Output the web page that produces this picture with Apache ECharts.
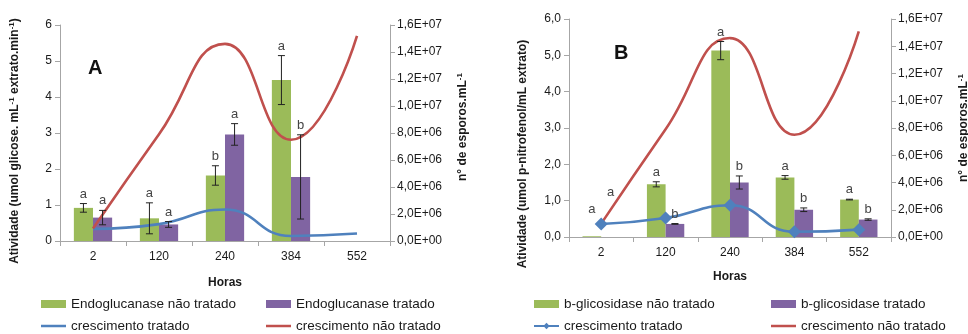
<!DOCTYPE html>
<html>
<head>
<meta charset="utf-8">
<script src="https://cdn.jsdelivr.net/npm/echarts@6/dist/echarts.min.js"></script>
<style>
  html, body { margin: 0; padding: 0; background: #fff; }
  #chart { width: 968px; height: 334px; }
</style>
</head>
<body>
<div id="chart"></div>
<script>
// categorias (horas)
let horas = ["2", "120", "240", "384", "552"];

// grafico A - endoglucanase
let endoNaoTratado = [0.92, 0.63, 1.82, 4.47, null];
let endoNaoTratadoErro = [0.12, 0.43, 0.27, 0.68, null];
let endoNaoTratadoLetra = ["a", "a", "b", "a", null];
let endoTratado = [0.65, 0.46, 2.96, 1.78, null];
let endoTratadoErro = [0.2, 0.08, 0.3, 1.17, null];
let endoTratadoLetra = ["a", "a", "a", "b", null];
let crescTratadoA = [0.9e6, 1.25e6, 2.33e6, 0.37e6, 0.55e6];
let crescNaoTratadoA = [0.92e6, 7.9e6, 14.6e6, 7.5e6, 15.2e6];

// grafico B - b-glicosidase
let bgliNaoTratado = [0.02, 1.45, 5.13, 1.64, 1.03];
let bgliNaoTratadoErro = [0, 0.07, 0.25, 0.05, 0.01];
let bgliNaoTratadoLetra = ["a", "a", "a", "a", "a"];
let bgliTratado = [0, 0.36, 1.5, 0.75, 0.48];
let bgliTratadoErro = [0, 0.01, 0.18, 0.05, 0.02];
let bgliTratadoLetra = ["a", "b", "b", "b", "b"];
// letras das 2 h ficam soltas no grafico B
let bgliNaoTratadoNivelLetra = [0.59, null, null, null, null];
let bgliTratadoNivelLetra = [1.05, null, null, null, null];
let crescTratadoB = [0.95e6, 1.39e6, 2.33e6, 0.38e6, 0.54e6];
let crescNaoTratadoB = [0.98e6, 7.9e6, 14.6e6, 7.5e6, 15.1e6];

let verde = "#9BBB59";
let roxo = "#8064A2";
let azul = "#4F81BD";
let vermelho = "#C0504D";
let fonte = "Liberation Sans, Arial, sans-serif";
let corTexto = "#1a1a1a";
let gapCategoria = 0.42;
// icone de linha fina para a legenda
let iconeLinha = "path://M0,0h50v5h-50z";

function formatoCientifico(v) {
    if (v === 0) return "0,0E+00";
    let e = Math.floor(Math.log10(v) + 1e-9);
    let m = v / Math.pow(10, e);
    return m.toFixed(1).replace(".", ",") + "E+" + (e < 10 ? "0" + e : e);
}

// monta dados das barras de erro: [indice, media, erro, letra, lado, nivelLetra]
function dadosErro(medias, erros, letras, lado, niveis) {
    let out = [];
    medias.forEach((m, i) => {
        if (m === null) return;
        out.push([i, m, erros[i], letras[i], lado, niveis ? niveis[i] : null]);
    });
    return out;
}

function desenhaErro(item, api) {
    let idx = item[0];
    let media = item[1];
    let erro = item[2];
    let lado = item[4];
    let larguraCat = api.size([1, 0])[0];
    let larguraBarra = larguraCat * (1 - gapCategoria) / 2;
    let centro = api.coord([idx, media]);
    let x = centro[0] + lado * larguraBarra / 2;
    let topo = api.coord([idx, media + erro])[1];
    let base = api.coord([idx, media - erro])[1];
    let filhos = [];
    if (erro > 0) {
        let estilo = { stroke: "#222", lineWidth: 1 };
        filhos.push({ type: "line", shape: { x1: x, y1: topo, x2: x, y2: base }, style: estilo });
        filhos.push({ type: "line", shape: { x1: x - 3.5, y1: topo, x2: x + 3.5, y2: topo }, style: estilo });
        filhos.push({ type: "line", shape: { x1: x - 3.5, y1: base, x2: x + 3.5, y2: base }, style: estilo });
    }
    let yLetra = item[5] !== null ? api.coord([idx, item[5]])[1] : topo - 3;
    if (item[3]) {
        filhos.push({
            type: "text",
            style: {
                text: item[3], x: x, y: yLetra,
                align: "center", verticalAlign: "bottom",
                fill: "#444", font: "13px " + fonte
            }
        });
    }
    return { type: "group", children: filhos };
}

function serieErro(nome, dados, eixo) {
    return {
        name: nome,
        type: "custom",
        xAxisIndex: eixo,
        yAxisIndex: eixo * 2,
        data: dados.map(d => [d[0], d[1], d[2]]),
        z: 10,
        renderItem: function (params, api) {
            return desenhaErro(dados[params.dataIndex], api);
        }
    };
}

function eixoX(grid, nomeGap) {
    return {
        type: "category",
        gridIndex: grid,
        data: horas,
        name: "Horas",
        nameLocation: "middle",
        nameGap: nomeGap,
        nameTextStyle: { fontFamily: fonte, fontWeight: "bold", fontSize: 12, color: corTexto },
        axisLine: { lineStyle: { color: "#a6a6a6" } },
        axisTick: { show: true, alignWithLabel: false, length: 5, lineStyle: { color: "#a6a6a6" } },
        axisLabel: { fontFamily: fonte, fontSize: 12, color: corTexto, margin: 10 },
        splitLine: { show: false }
    };
}

let richNome = {
    n: { fontFamily: fonte, fontWeight: "bold", fontSize: 12, color: corTexto },
    s: { fontFamily: fonte, fontWeight: "bold", fontSize: 8, color: corTexto, padding: [0, 0, 6, 0] }
};

function eixoEsquerdo(grid, nome, decimais, nomeGap, padding) {
    return {
        type: "value",
        gridIndex: grid,
        position: "left",
        min: 0, max: 6, interval: 1,
        name: nome,
        nameLocation: "middle",
        nameRotate: 90,
        nameGap: nomeGap,
        nameTextStyle: {
            fontFamily: fonte, fontWeight: "bold", fontSize: 12, color: corTexto, padding: padding,
            rich: richNome
        },
        axisLine: { show: true, lineStyle: { color: "#a6a6a6" } },
        axisTick: { show: true, length: 5, lineStyle: { color: "#a6a6a6" } },
        axisLabel: {
            fontFamily: fonte, fontSize: 12, color: corTexto, margin: 8,
            formatter: v => decimais ? v.toFixed(1).replace(".", ",") : String(v)
        },
        splitLine: { show: false }
    };
}

function eixoDireito(grid, nomeGap, padding) {
    return {
        type: "value",
        gridIndex: grid,
        position: "right",
        min: 0, max: 1.6e7, interval: 2e6,
        name: "{n|n° de esporos.mL}{s|-1}",
        nameLocation: "middle",
        nameRotate: 90,
        nameGap: nomeGap,
        nameTextStyle: {
            fontFamily: fonte, fontWeight: "bold", fontSize: 12, color: corTexto, padding: padding,
            rich: richNome
        },
        axisLine: { show: true, lineStyle: { color: "#a6a6a6" } },
        axisTick: { show: true, length: 5, lineStyle: { color: "#a6a6a6" } },
        axisLabel: { fontFamily: fonte, fontSize: 12, color: corTexto, margin: 7, formatter: formatoCientifico },
        splitLine: { show: false }
    };
}

function serieBarra(nome, dados, cor, eixo) {
    return {
        name: nome,
        type: "bar",
        xAxisIndex: eixo,
        yAxisIndex: eixo * 2,
        data: dados,
        barGap: "0%",
        barCategoryGap: (gapCategoria * 100) + "%",
        itemStyle: { color: cor },
        z: 2
    };
}

function serieLinha(nome, dados, cor, eixo, marcador) {
    return {
        name: nome,
        type: "line",
        xAxisIndex: eixo,
        yAxisIndex: eixo * 2 + 1,
        data: dados,
        smooth: 0.5,
        symbol: marcador ? "diamond" : "none",
        symbolSize: 13,
        showSymbol: !!marcador,
        itemStyle: { color: cor },
        lineStyle: { color: cor, width: 2.6 },
        z: 5
    };
}

function legenda(left, itens) {
    return {
        left: left,
        top: 297,
        padding: 0,
        orient: "vertical",
        itemGap: 8,
        itemWidth: 25,
        itemHeight: 8,
        symbolKeepAspect: true,
        textStyle: { fontFamily: fonte, fontSize: 13.5, color: corTexto },
        data: itens
    };
}

let chartDom = document.getElementById("chart");
let chart = echarts.init(chartDom);
let option = {
    animation: false,
    backgroundColor: "#fff",
    grid: [
        { left: 60, top: 25, width: 330, height: 216, outerBoundsMode: "none", containLabel: false },
        { left: 569, top: 19, width: 322, height: 218, outerBoundsMode: "none", containLabel: false }
    ],
    xAxis: [eixoX(0, 36), eixoX(1, 34)],
    yAxis: [
        eixoEsquerdo(0, "{n|Atividade (umol glicose. mL}{s|-1}{n| extrato.min}{s|-1}{n|)}", false, 38, [0, 16, 0, 0]),
        eixoDireito(0, 66, [0, 0, 0, 12]),
        eixoEsquerdo(1, "{n|Atividade (umol p-nitrofenol/mL extrato)}", true, 40, [0, 52, 0, 0]),
        eixoDireito(1, 66, [0, 0, 0, 0])
    ],
    legend: [
        legenda(41, [
            { name: "Endoglucanase não tratado", icon: "rect" },
            { name: "crescimento tratado", icon: iconeLinha }
        ]),
        legenda(266, [
            { name: "Endoglucanase tratado", icon: "rect" },
            { name: "crescimento não tratado", icon: iconeLinha }
        ]),
        legenda(533, [
            { name: "b-glicosidase não tratado", icon: "rect" },
            { name: "crescimento tratado " }
        ]),
        legenda(771, [
            { name: "b-glicosidase tratado", icon: "rect" },
            { name: "crescimento não tratado ", icon: iconeLinha }
        ])
    ],
    graphic: [
        { type: "text", left: 88, top: 58, style: { text: "A", font: "bold 20px " + fonte, fill: "#111" } },
        { type: "text", left: 614, top: 43, style: { text: "B", font: "bold 20px " + fonte, fill: "#111" } }
    ],
    series: [
        serieBarra("Endoglucanase não tratado", endoNaoTratado, verde, 0),
        serieBarra("Endoglucanase tratado", endoTratado, roxo, 0),
        serieLinha("crescimento tratado", crescTratadoA, azul, 0, false),
        serieLinha("crescimento não tratado", crescNaoTratadoA, vermelho, 0, false),
        serieErro("erroA1", dadosErro(endoNaoTratado, endoNaoTratadoErro, endoNaoTratadoLetra, -1), 0),
        serieErro("erroA2", dadosErro(endoTratado, endoTratadoErro, endoTratadoLetra, 1), 0),

        serieBarra("b-glicosidase não tratado", bgliNaoTratado, verde, 1),
        serieBarra("b-glicosidase tratado", bgliTratado, roxo, 1),
        serieLinha("crescimento tratado ", crescTratadoB, azul, 1, true),
        serieLinha("crescimento não tratado ", crescNaoTratadoB, vermelho, 1, false),
        serieErro("erroB1", dadosErro(bgliNaoTratado, bgliNaoTratadoErro, bgliNaoTratadoLetra, -1, bgliNaoTratadoNivelLetra), 1),
        serieErro("erroB2", dadosErro(bgliTratado, bgliTratadoErro, bgliTratadoLetra, 1, bgliTratadoNivelLetra), 1)
    ]
};
option && chart.setOption(option);
</script>
</body>
</html>
